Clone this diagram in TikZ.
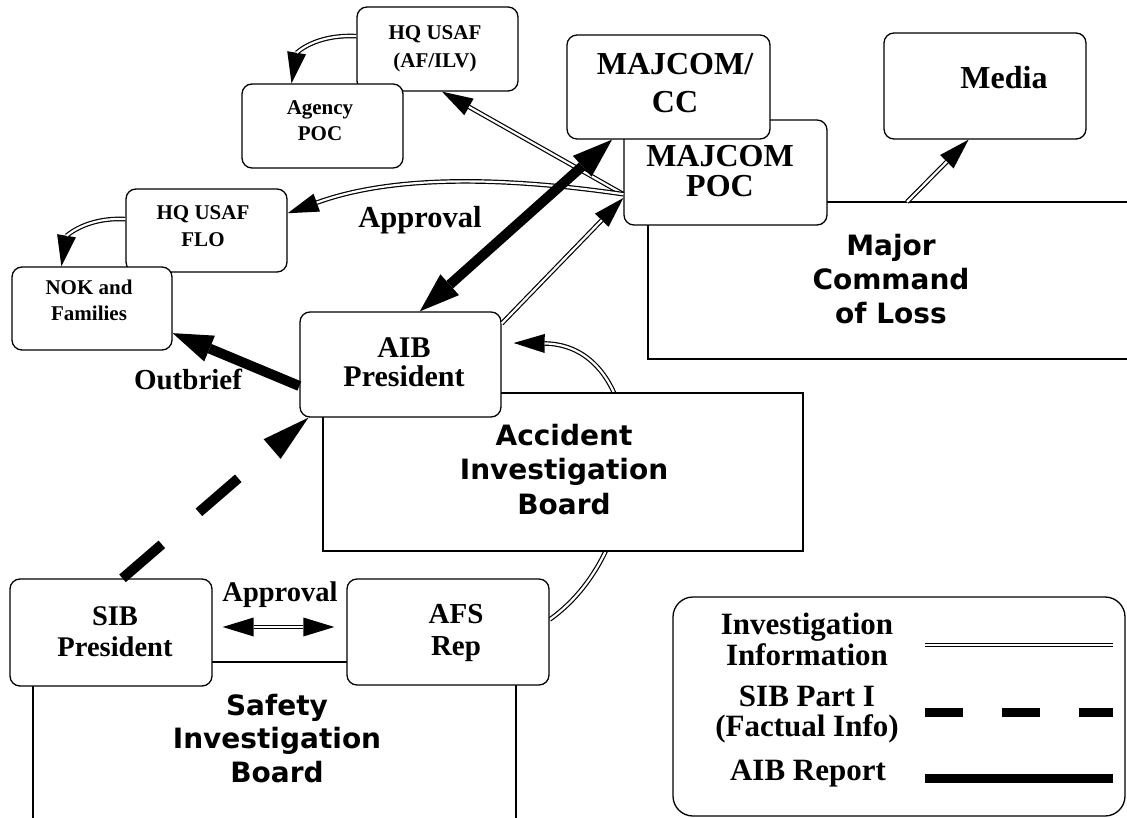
\documentclass[tikz,border=0pt]{standalone}
\usepackage{fontspec}
\setmainfont{Liberation Serif}
\newfontfamily\grpfont{DejaVu Sans}
\usetikzlibrary{arrows.meta,calc,backgrounds}

\tikzset{
  box/.style={draw, line width=1.3pt, rounded corners=10pt, fill=white, inner sep=0pt},
  frame/.style={line width=1.4pt},
  lbl/.style n args={2}{inner sep=0pt, anchor=north, align=center,
    font=\fontsize{#1}{#2}\selectfont\bfseries},
  grp/.style n args={2}{inner sep=0pt, anchor=north, align=center,
    font=\grpfont\fontsize{#1}{#2}\selectfont\bfseries},
  tipinfo/.tip={Triangle[length=31pt,width=19pt,line width=0pt]},
  tipreport/.tip={Triangle[length=40pt,width=28pt,line width=0pt]},
  % investigation information: hollow double line, solid head
  info/.style={line width=4.6pt, -tipinfo,
    postaction={draw=white, line width=2.2pt, -, shorten >=31pt}},
  infoboth/.style={line width=4.6pt, tipinfo-tipinfo,
    postaction={draw=white, line width=2.2pt, -, shorten >=31pt, shorten <=31pt}},
  infoline/.style={line width=4.6pt, postaction={draw=white, line width=2.2pt}},
  % AIB report: heavy solid line
  report/.style={line width=10pt, -tipreport},
  reportboth/.style={line width=10pt, tipreport-tipreport},
  % SIB part I: heavy dashed line
  factual/.style={line width=10pt, dash pattern=on 52pt off 49pt,
    -{Triangle[length=48pt,width=26pt,line width=0pt]}},
}

\begin{document}
\begin{tikzpicture}[x=1pt,y=-1pt]
\useasboundingbox (0,0) rectangle (1127,818);
\clip (0,0) rectangle (1127,818);

% ---------- boxes ----------
\node[box, minimum width=161pt, minimum height=84pt] (ilv) at (437.5,49) {};
\node[box, minimum width=161pt, minimum height=84pt] (agency) at (322.5,126) {};
\node[box, minimum width=161pt, minimum height=83pt] (flo) at (206.5,230.5) {};
\node[box, minimum width=160pt, minimum height=83pt] (nok) at (92,308.5) {};
\node[box, minimum width=203pt, minimum height=105pt] (poc) at (725.5,172.5) {};
\node[box, minimum width=203pt, minimum height=104pt] (cc) at (668.5,87) {};
\node[box, minimum width=202pt, minimum height=106pt] (media) at (985,86) {};
\node[box, minimum width=201pt, minimum height=105pt] (aib) at (400.5,364.5) {};
\node[box, minimum width=202pt, minimum height=107pt] (sib) at (111,632.5) {};
\node[box, minimum width=202pt, minimum height=106pt] (afs) at (448,632) {};
\node[draw, line width=1.3pt, rounded corners=20pt, inner sep=0pt,
      minimum width=452pt, minimum height=219pt] (legend) at (899,706.5) {};

% ---------- box texts ----------
\node[lbl={21}{28}] (ilvT) at (435,25) {HQ USAF\\(AF/ILV)};
\node[lbl={21}{26}] (agencyT) at (320,100) {Agency\\POC};
\node[lbl={21}{27}] (floT) at (203,205) {HQ USAF\\FLO};
\node[lbl={21}{26}] (nokT) at (89,280) {NOK and\\Families};
\node[lbl={32}{38}] (ccT) at (675,53) {MAJCOM/\\CC};
\node[lbl={32}{30}] (pocT) at (720,145) {MAJCOM\\POC};
\node[lbl={32}{34}] (mediaT) at (1004,66) {Media};
\node[lbl={30}{29}] (aibT) at (404,337) {AIB\\President};
\node[lbl={28.5}{31}] (sibT) at (115,606) {SIB\\President};
\node[lbl={29}{32}] (afsT) at (456,604) {AFS\\Rep};

% ---------- connector labels ----------
\node[lbl={29}{31}] (outbriefT) at (188,369) {Outbrief};
\node[lbl={30.5}{32}] (approvalT) at (420,206) {Approval};
\node[lbl={28.5}{30}] (approvalB) at (280,582) {Approval};

% ---------- board names ----------
\node[grp={28}{34}] (mclT) at (891,234) {Major\\Command\\of Loss};
\node[grp={28}{34.5}] (aibgT) at (564,424) {Accident\\Investigation\\Board};
\node[grp={28}{33.5}] (sibgT) at (277,694) {Safety\\Investigation\\Board};

% ---------- board frames and the link running behind them ----------
\begin{pgfonlayer}{background}
  \fill[white] (0,0) rectangle (1127,818);
  \draw[info] (afs.7) .. controls +(106,-75) and +(137,2) .. ($(aib.12)+(12,0)$);
  \filldraw[frame, fill=white] (323,393) rectangle (803,551);
  \draw[frame] (648,202) rectangle (1140,359);
  \draw[frame] (33,662) rectangle (516,830);
\end{pgfonlayer}
\coordinate (mcTop) at (907,202);

% ---------- investigation information ----------
\draw[info] (poc.192) -- (ilv.276);
\draw[info] (poc.192) .. controls +(-110,-16) and +(110,-40) .. (flo.12);
\draw[info] (ilv.171) .. controls +(-42,-2) and +(5,-30) .. (agency.126);
\draw[info] (flo.172) .. controls +(-40,-2) and +(5,-30) .. (nok.126);
\draw[info] (aib.22) -- (poc.194);
\draw[info] (mcTop) -- (media.253);
\draw[infoboth] ($(sib.east)+(10,-5.5)$) -- ($(afs.west)+(-12,-5)$);

% ---------- AIB report ----------
\draw[report] (aib.192) -- (nok.343);
\draw[reportboth] (aib.70) -- (cc.223);

% ---------- SIB part I ----------
\draw[factual] (sib.78) -- (aib.210);

% ---------- legend ----------
\node[lbl={31}{31}] (leg1) at (807,613) {Investigation\\Information};
\node[lbl={31}{30}] (leg2) at (807,686) {SIB Part I\\(Factual Info)};
\node[lbl={31}{31}] (leg3) at (808,760) {AIB Report};
\coordinate (l1a) at (925,645); \coordinate (l1b) at (1113,645);
\coordinate (l2a) at (925,712); \coordinate (l2b) at (1113,712);
\coordinate (l3a) at (925,778); \coordinate (l3b) at (1113,778);
\draw[infoline] (l1a) -- (l1b);
\draw[line width=9pt, dash pattern=on 38pt off 39pt] (l2a) -- (l2b);
\draw[line width=9pt] (l3a) -- (l3b);
\end{tikzpicture}
\end{document}
